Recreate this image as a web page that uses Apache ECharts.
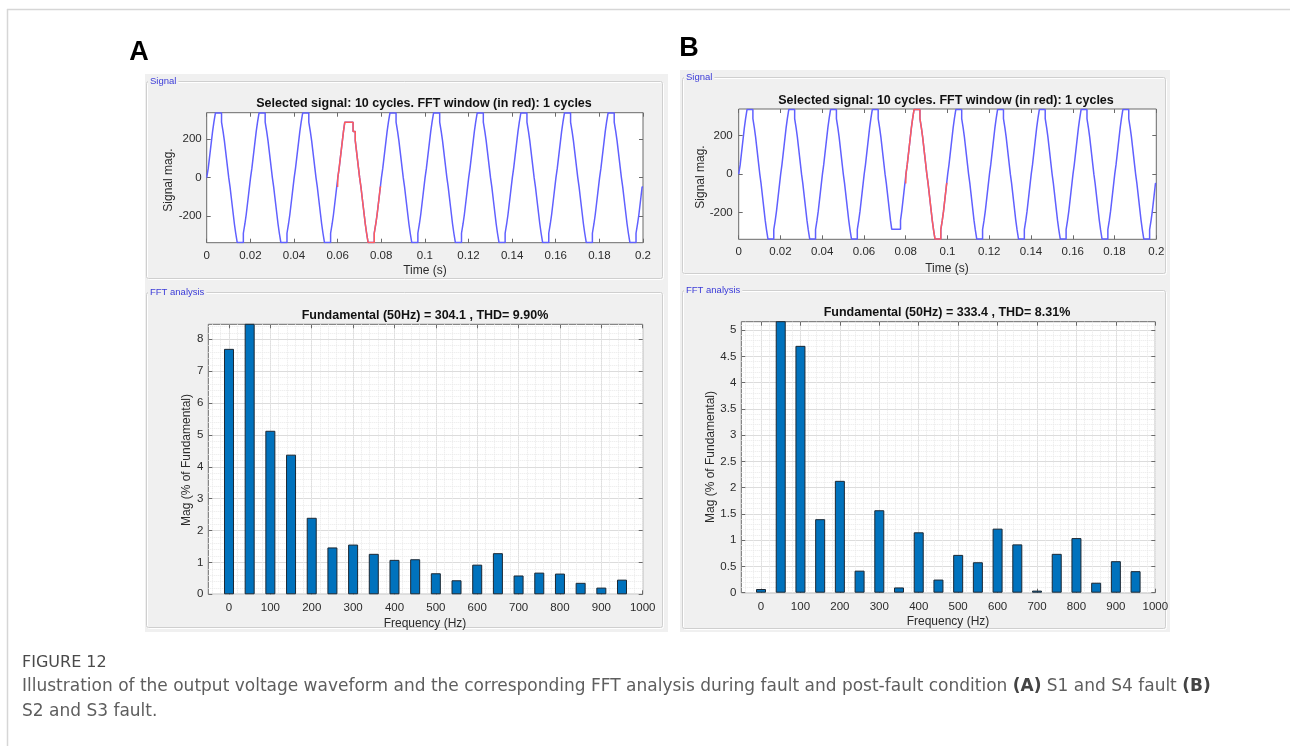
<!DOCTYPE html>
<html><head><meta charset="utf-8">
<script src="https://cdn.jsdelivr.net/npm/echarts@6/dist/echarts.min.js"></script>
<style>html,body{margin:0;padding:0;background:#fff}#c{width:1290px;height:746px}</style>
</head><body><div id="c"></div>
<script>
// ---------------- DATA ----------------
const timeTicks = [0, 0.02, 0.04, 0.06, 0.08, 0.1, 0.12, 0.14, 0.16, 0.18, 0.2];
const signalTicks = [-200, 0, 200];
const freqTicks = [0, 100, 200, 300, 400, 500, 600, 700, 800, 900, 1000];
const magTicksA = [0, 1, 2, 3, 4, 5, 6, 7, 8];
const magTicksB = [0, 0.5, 1, 1.5, 2, 2.5, 3, 3.5, 4, 4.5, 5];

const harmonicFreqs = [0, 50, 100, 150, 200, 250, 300, 350, 400, 450, 500, 550, 600, 650, 700, 750, 800, 850, 900, 950];
const magA = [7.70, 100, 5.13, 4.38, 2.40, 1.47, 1.56, 1.27, 1.08, 1.10, 0.66, 0.44, 0.93, 1.29, 0.59, 0.68, 0.65, 0.36, 0.21, 0.46];
const magB = [0.07, 100, 4.70, 1.40, 2.13, 0.42, 1.57, 0.10, 1.15, 0.25, 0.72, 0.58, 1.22, 0.92, 0.04, 0.74, 1.04, 0.19, 0.60, 0.41];

// staircase waveform, one 20 ms cycle: step start times (s, within cycle) and levels
const PERIOD = 0.02;
const normalT = [0, 0.0001, 0.0007, 0.0012, 0.0017, 0.0022, 0.0027, 0.0033, 0.0040, 0.0068, 0.0075, 0.0081, 0.0086, 0.0091, 0.0096, 0.0101, 0.0107, 0.0112, 0.0117, 0.0122, 0.0127, 0.0133, 0.0140, 0.0168, 0.0175, 0.0181, 0.0186, 0.0191, 0.0196];
const normalV = [-48, 0, 48, 96, 144, 192, 240, 288, 336, 288, 240, 192, 144, 96, 48, 0, -48, -96, -144, -192, -240, -288, -336, -288, -240, -192, -144, -96, -48];
// S1/S4 fault cycle: positive peak one level lower
const faultAT = [0, 0.0001, 0.0007, 0.0012, 0.0017, 0.0022, 0.0027, 0.0033, 0.0071, 0.0081, 0.0086, 0.0091, 0.0096, 0.0101, 0.0107, 0.0112, 0.0117, 0.0122, 0.0127, 0.0133, 0.0140, 0.0168, 0.0175, 0.0181, 0.0186, 0.0191, 0.0196];
const faultAV = [-48, 0, 48, 96, 144, 192, 240, 288, 240, 192, 144, 96, 48, 0, -48, -96, -144, -192, -240, -288, -336, -288, -240, -192, -144, -96, -48];
// S2/S3 fault cycle: negative peak one level lower
const faultBT = [0, 0.0001, 0.0007, 0.0012, 0.0017, 0.0022, 0.0027, 0.0033, 0.0040, 0.0068, 0.0075, 0.0081, 0.0086, 0.0091, 0.0096, 0.0101, 0.0107, 0.0112, 0.0117, 0.0122, 0.0127, 0.0133, 0.0175, 0.0181, 0.0186, 0.0191, 0.0196];
const faultBV = [-48, 0, 48, 96, 144, 192, 240, 288, 336, 288, 240, 192, 144, 96, 48, 0, -48, -96, -144, -192, -240, -286, -240, -192, -144, -96, -48];

const N = {t: normalT, v: normalV}, FA = {t: faultAT, v: faultAV}, FB = {t: faultBT, v: faultBV};
const cyclesA = [N, N, N, FA, N, N, N, N, N, N];
const cyclesB = [N, N, N, FB, N, N, N, N, N, N];
const redCycleA = 3, redCycleB = 4;
const startLevel = 0, endLevel = -48;

// ---------------- BUILD ----------------
function buildWave(cycles) {
  const pts = [];
  cycles.forEach((c, k) => c.t.forEach((dt, i) => pts.push([Math.round((k * PERIOD + dt) * 1e5) / 1e5, c.v[i]])));
  pts[0] = [0, startLevel];
  pts.push([Math.round(cycles.length * PERIOD * 1e5) / 1e5, endLevel]);
  return pts;
}
function windowPart(pts, k) {
  const a = k * PERIOD - 1e-9, b = (k + 1) * PERIOD + 1e-9;
  return pts.filter(p => p[0] >= a && p[0] <= b);
}
const waveA = buildWave(cyclesA), waveB = buildWave(cyclesB);
const redA = windowPart(waveA, redCycleA), redB = windowPart(waveB, redCycleB);
const barsA = harmonicFreqs.map((f, i) => [f, magA[i]]);
const barsB = harmonicFreqs.map((f, i) => [f, magB[i]]);

const FONT = '"Liberation Sans", Arial, Helvetica, sans-serif';
const CAPF = '"DejaVu Sans", "Open Sans", sans-serif';
const BOX = '#6a6a6a', TXT = '#2b2b2b', MAJOR = '#dcdcdc', MINOR = '#e9e9e9';

const grids = [], xAxes = [], yAxes = [];
function tickAxis(extra) {
  return Object.assign({
    type: 'value',
    axisLine: {show: false, onZero: false},
    axisTick: {show: true, inside: true, length: 4, lineStyle: {color: BOX, width: 1}},
    axisLabel: {show: false},
    splitLine: {show: false}
  }, extra);
}
const plainNum = v => String(v);
function makePlot(r, xc, yc, fft) {
  const gi = grids.length;
  grids.push({left: r.left, top: r.top, width: r.width, height: r.height, show: true,
    backgroundColor: '#ffffff', borderColor: BOX, borderWidth: 1});
  const lbl = (m, extra) => Object.assign({show: true, margin: m, fontSize: 11.5, color: TXT, fontFamily: FONT, formatter: plainNum}, extra);
  const tk = t => ({show: true, inside: true, length: 4, customValues: t, lineStyle: {color: BOX}});
  const xi = xAxes.length;
  const xBase = {gridIndex: gi, min: xc.min, max: xc.max};
  if (xc.interval) xBase.interval = xc.interval;
  xAxes.push(tickAxis(Object.assign({}, xBase, {position: 'bottom', axisTick: tk(xc.ticks),
    axisLabel: lbl(xc.margin, {customValues: xc.ticks}),
    splitLine: {show: fft, lineStyle: {color: MAJOR, width: 1}}})));
  xAxes.push(tickAxis(Object.assign({}, xBase, {position: 'top', axisTick: tk(xc.ticks)})));
  const yi = yAxes.length;
  const yBase = {gridIndex: gi, min: yc.min, max: yc.max};
  if (yc.interval) yBase.interval = yc.interval;
  yAxes.push(tickAxis(Object.assign({}, yBase, {position: 'left', axisTick: tk(yc.ticks),
    axisLabel: lbl(yc.margin, {customValues: yc.ticks}),
    splitLine: {show: fft, lineStyle: {color: MAJOR, width: 1}},
    minorTick: {show: false, splitNumber: 5},
    minorSplitLine: {show: fft, lineStyle: {color: MINOR, type: 'dotted', width: 1}}})));
  yAxes.push(tickAxis(Object.assign({}, yBase, {position: 'right', axisTick: tk(yc.ticks)})));
  if (fft) {
    // overlay grid carrying the minor vertical grid lines (every 20 Hz)
    const span = xc.max - xc.min;
    const g2 = grids.length;
    grids.push({left: r.left + r.width * (xc.minorMin - xc.min) / span, top: r.top,
      width: r.width * (xc.max - xc.minorMin) / span, height: r.height, show: false});
    xAxes.push({type: 'value', gridIndex: g2, min: xc.minorMin, max: xc.max, interval: xc.minorStep,
      axisLine: {show: false, onZero: false}, axisTick: {show: false}, axisLabel: {show: false},
      splitLine: {show: true, lineStyle: {color: MINOR, type: 'dotted', width: 1}}});
    yAxes.push({type: 'value', gridIndex: g2, min: 0, max: 1, show: false});
  }
  return {xi, yi};
}

const pSA = makePlot({left: 206.7, top: 112.7, width: 436.3, height: 130},
  {min: 0, max: 0.2, ticks: timeTicks, margin: 7}, {min: -337, max: 337, ticks: signalTicks, margin: 5}, false);
const pFA = makePlot({left: 208.3, top: 324.3, width: 434.4, height: 270},
  {min: -50, max: 1000, interval: 50, ticks: freqTicks, margin: 8, minorMin: -40, minorStep: 20},
  {min: 0, max: 8.47, interval: 1, ticks: magTicksA, margin: 5}, true);
const pSB = makePlot({left: 738.7, top: 109, width: 417.6, height: 130.3},
  {min: 0, max: 0.2, ticks: timeTicks, margin: 7}, {min: -338, max: 338, ticks: signalTicks, margin: 6}, false);
const pFB = makePlot({left: 741.3, top: 321.7, width: 414, height: 271},
  {min: -50, max: 1000, interval: 50, ticks: freqTicks, margin: 8, minorMin: -40, minorStep: 20},
  {min: 0, max: 5.16, interval: 0.5, ticks: magTicksB, margin: 5}, true);

const BLUE = '#6060ff', RED = '#ff5c5c', BAR = '#0072bd';
function waveSeries(p, data, color, z) {
  return {type: 'line', xAxisIndex: p.xi, yAxisIndex: p.yi, data, step: 'end', showSymbol: false,
    symbol: 'none', lineStyle: {color, width: 1.5}, z, animation: false, clip: true};
}
function barSeries(p, data) {
  return {type: 'bar', xAxisIndex: p.xi, yAxisIndex: p.yi, data, barWidth: 10, clip: true,
    itemStyle: {color: BAR, borderColor: '#1c2833', borderWidth: 1}, animation: false, z: 3};
}
const series = [
  waveSeries(pSA, waveA, BLUE, 2), waveSeries(pSA, redA, RED, 3),
  waveSeries(pSB, waveB, BLUE, 2), waveSeries(pSB, redB, RED, 3),
  barSeries(pFA, barsA), barSeries(pFB, barsB)
];

// ---------------- DECORATION / TEXT ----------------
function txt(x, y, text, o) {
  o = o || {};
  return {type: 'text', x, y, rotation: o.rot || 0, z: 50, silent: true,
    style: {text, fontSize: o.size || 12, fontWeight: o.bold ? 'bold' : 'normal', fill: o.color || TXT,
      fontFamily: o.font || FONT, align: o.align || 'center', verticalAlign: 'middle',
      backgroundColor: o.bg, padding: o.pad, rich: o.rich}};
}
function groupBox(x, y, w, h) {
  return [
    {type: 'rect', z: -5, silent: true, shape: {x: x + 1, y: y + 1, width: w, height: h, r: 2}, style: {fill: null, stroke: '#ffffff', lineWidth: 1}},
    {type: 'rect', z: -4, silent: true, shape: {x, y, width: w, height: h, r: 2}, style: {fill: null, stroke: '#cfcfcf', lineWidth: 1}}
  ];
}
const GL = '#3b3bd8';
const graphics = [
  {type: 'line', z: -10, silent: true, shape: {x1: 7, y1: 9.5, x2: 1290, y2: 9.5}, style: {stroke: '#d6d6d6', lineWidth: 1.5}},
  {type: 'line', z: -10, silent: true, shape: {x1: 7.5, y1: 9, x2: 7.5, y2: 746}, style: {stroke: '#d6d6d6', lineWidth: 1.5}},
  {type: 'rect', z: -10, silent: true, shape: {x: 145, y: 74, width: 523, height: 558}, style: {fill: '#f0f0f0'}},
  {type: 'rect', z: -10, silent: true, shape: {x: 680, y: 70, width: 490, height: 562}, style: {fill: '#f0f0f0'}},
  ...groupBox(146.5, 81.5, 516, 197),
  ...groupBox(146.5, 292.5, 516, 335),
  ...groupBox(682.5, 77.5, 483, 196),
  ...groupBox(682.5, 290.5, 483, 338),
  txt(148, 81.5, 'Signal', {size: 9.5, color: GL, align: 'left', bg: '#f0f0f0', pad: [0, 2]}),
  txt(148, 292.5, 'FFT analysis', {size: 9.5, color: GL, align: 'left', bg: '#f0f0f0', pad: [0, 2]}),
  txt(684, 77.5, 'Signal', {size: 9.5, color: GL, align: 'left', bg: '#f0f0f0', pad: [0, 2]}),
  txt(684, 290.5, 'FFT analysis', {size: 9.5, color: GL, align: 'left', bg: '#f0f0f0', pad: [0, 2]}),
  txt(139, 53, 'A', {size: 27, bold: true, color: '#000'}),
  txt(689, 49, 'B', {size: 27, bold: true, color: '#000'}),
  // panel A
  txt(424, 104, 'Selected signal: 10 cycles. FFT window (in red): 1 cycles', {size: 12.5, bold: true, color: '#111'}),
  txt(169, 180, 'Signal mag.', {rot: Math.PI / 2}),
  txt(425, 271, 'Time (s)'),
  txt(425, 316, 'Fundamental (50Hz) = 304.1 , THD= 9.90%', {size: 12.5, bold: true, color: '#111'}),
  txt(187, 460, 'Mag (% of Fundamental)', {rot: Math.PI / 2}),
  txt(425, 624, 'Frequency (Hz)'),
  // panel B
  txt(946, 101, 'Selected signal: 10 cycles. FFT window (in red): 1 cycles', {size: 12.5, bold: true, color: '#111'}),
  txt(701, 177, 'Signal mag.', {rot: Math.PI / 2}),
  txt(947, 269, 'Time (s)'),
  txt(947, 313, 'Fundamental (50Hz) = 333.4 , THD= 8.31%', {size: 12.5, bold: true, color: '#111'}),
  txt(711, 457, 'Mag (% of Fundamental)', {rot: Math.PI / 2}),
  txt(948, 622, 'Frequency (Hz)'),
  // caption
  txt(22, 663, 'FIGURE 12', {size: 16, color: '#4a4a4a', align: 'left', font: CAPF}),
  txt(22, 687, 'Illustration of the output voltage waveform and the corresponding FFT analysis during fault and post-fault condition {b|(A)} S1 and S4 fault {b|(B)}',
    {size: 17, color: '#5e5e5e', align: 'left', font: CAPF,
     rich: {b: {fontWeight: 'bold', fontSize: 17, fill: '#444', fontFamily: CAPF}}}),
  txt(22, 712, 'S2 and S3 fault.', {size: 17, color: '#5e5e5e', align: 'left', font: CAPF})
];

const chart = echarts.init(document.getElementById('c'), null, {renderer: 'canvas'});
chart.setOption({
  animation: false,
  backgroundColor: '#ffffff',
  grid: grids, xAxis: xAxes, yAxis: yAxes, series,
  graphic: {elements: graphics}
});
</script></body></html>
